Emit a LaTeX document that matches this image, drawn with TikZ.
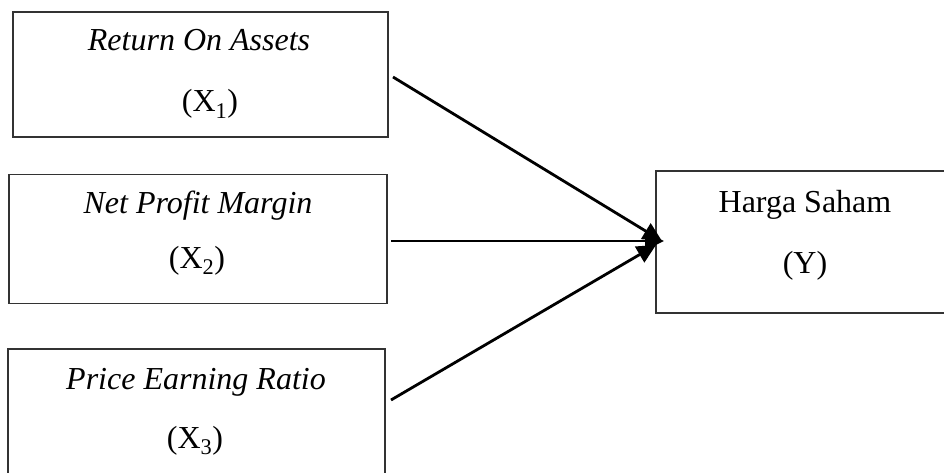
\documentclass[tikz,border=0pt]{standalone}
\usepackage{fontspec}
\setmainfont{Liberation Serif}
\usetikzlibrary{arrows.meta}
\begin{document}
\begin{tikzpicture}[x=1pt,y=-1pt,
  box/.style={draw=black!80,line width=1.3pt,inner sep=0pt},
  lbl/.style={anchor=base,inner sep=0pt,font=\fontsize{32}{36}\selectfont},
  arr/.style={line width=2.8pt,-{Triangle[length=19pt,width=18pt]}}]
\useasboundingbox (0,0) rectangle (944,473);
\clip (0,0) rectangle (944,473);
\node[box,minimum width=375pt,minimum height=125pt] (b1) at (200.5,74.5) {};
\node[box,minimum width=378pt,minimum height=129pt] (b2) at (198,239) {};
\node[box,minimum width=377pt,minimum height=145pt] (b3) at (196.5,421.5) {};
\node[box,minimum width=320pt,minimum height=142pt] (y) at (816,242) {};
\node[lbl] (t1) at (199,51) {\itshape Return On Assets};
\node[lbl] (s1) at (210,112) {(X\textsubscript{1})};
\node[lbl] (t2) at (198,213) {\itshape Net Profit Margin};
\node[lbl] (s2) at (197,268) {(X\textsubscript{2})};
\node[lbl] (t3) at (196,389) {\itshape Price Earning Ratio};
\node[lbl] (s3) at (195,448) {(X\textsubscript{3})};
\node[lbl] (ty) at (805,212) {Harga Saham};
\node[lbl] (sy) at (805,273) {(Y)};
\coordinate (a1) at (393,77);
\coordinate (a2) at (391,241);
\coordinate (a3) at (391,400);
\coordinate (e1) at (662,241);
\coordinate (e2) at (664,241);
\coordinate (e3) at (656,245);
\draw[arr] (a1) -- (e1);
\draw[arr] (a2) -- (e2);
\draw[arr] (a3) -- (e3);
\end{tikzpicture}
\end{document}
